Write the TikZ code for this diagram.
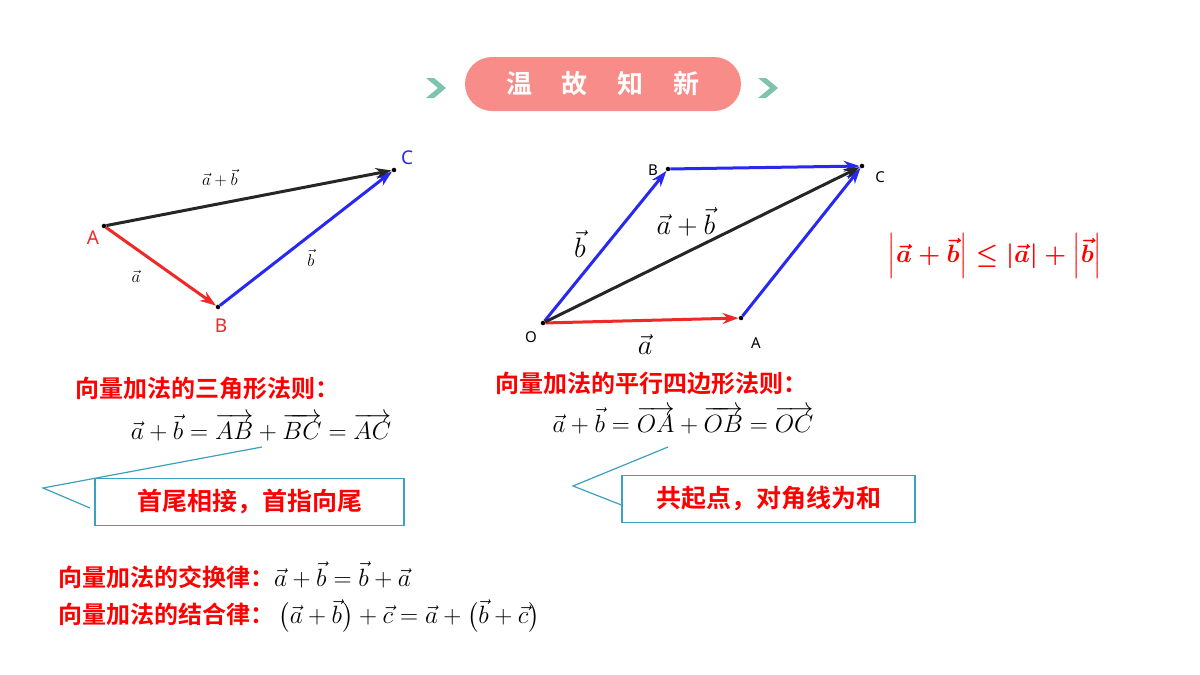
\RequirePackage{fix-cm}
\documentclass[tikz,border=0pt]{standalone}
\usepackage{amsmath}
\usepackage{fontspec}
\setmainfont{Noto Sans}
\newfontfamily\cjk{Noto Sans CJK SC}[BoldFont={Noto Sans CJK SC Bold}]
\usetikzlibrary{positioning, shapes.geometric, arrows.meta}
\definecolor{tred}{RGB}{240,40,40}
\definecolor{tblue}{RGB}{40,40,240}
\definecolor{pill}{RGB}{248,140,136}
\definecolor{teal}{RGB}{125,195,174}
\definecolor{callout}{RGB}{60,160,190}
\begin{document}
\begin{tikzpicture}[x=1pt,y=-1pt,
  vec/.style={line width=3pt,-{Stealth[length=16pt,width=11pt]}},
  pt/.style={circle,fill,inner sep=1.6pt},
  lbl/.style={font=\fontsize{17}{17}\selectfont},
  rule/.style={font=\cjk\bfseries\fontsize{24}{28}\selectfont,text=red,anchor=west,inner sep=0pt},
  eqn/.style={font=\fontsize{25}{28}\selectfont},
  tipbox/.style={draw=callout,line width=1.2pt,fill=white,minimum width=309pt,minimum height=47pt,
    font=\cjk\bfseries\fontsize{25}{28}\selectfont,text=red}]
  \useasboundingbox (0,0) rectangle (1200,675);
  % header
  \node[rounded corners=27pt,fill=pill,minimum width=276pt,minimum height=54pt,
    font=\cjk\bfseries\fontsize{26}{26}\selectfont,text=white] (title) at (603,84) {温\hspace{30pt}故\hspace{30pt}知\hspace{30pt}新};
  \fill[teal] (426,78) -- (434,78) -- (446,88) -- (434,98) -- (426,98) -- (438,88) -- cycle;
  \fill[teal] (758,78) -- (766,78) -- (778,88) -- (766,98) -- (758,98) -- (770,88) -- cycle;
  % triangle rule
  \node[pt] (A) at (104,226) {};
  \node[pt] (B) at (218,307) {};
  \node[pt] (C) at (394,170) {};
  \draw[vec,tred] (A) -- (B);
  \draw[vec,tblue] (B) -- (C);
  \draw[vec,black!85] (A) -- (C);
  \node[lbl,text=tred,font=\fontsize{19}{19}\selectfont] at (93,238) {A};
  \node[lbl,text=tred,font=\fontsize{19}{19}\selectfont] at (221,326) {B};
  \node[lbl,text=tblue,font=\fontsize{19}{19}\selectfont] at (407,158) {C};
  \node[lbl] at (220,178) {$\vec a+\vec b$};
  \node[lbl] at (136,276) {$\vec a$};
  \node[lbl] at (311,258) {$\vec b$};
  % parallelogram rule
  \node[pt] (O) at (543,323) {};
  \node[pt] (PA) at (741,318) {};
  \node[pt] (PB) at (668,169) {};
  \node[pt] (PC) at (862,166) {};
  \draw[vec,tred] (O) -- (PA);
  \draw[vec,tblue] (O) -- (PB);
  \draw[vec,tblue] (PA) -- (PC);
  \draw[vec,tblue] (PB) -- (PC);
  \draw[vec,black!85] (O) -- (PC);
  \node[lbl,font=\fontsize{15}{15}\selectfont] at (531,337) {O};
  \node[lbl,font=\fontsize{15}{15}\selectfont] at (756,343) {A};
  \node[lbl,font=\fontsize{15}{15}\selectfont] at (653,170) {B};
  \node[lbl,font=\fontsize{15}{15}\selectfont] at (880,177) {C};
  \node[font=\fontsize{28}{28}\selectfont] at (645,345) {$\vec a$};
  \node[font=\fontsize{28}{28}\selectfont] at (580,244) {$\vec b$};
  \node[font=\fontsize{28}{28}\selectfont] at (686,222) {$\vec a+\vec b$};
  \node[font=\fontsize{25}{25}\selectfont,text=red] (ineq) at (995,256)
    {$\boldsymbol{\left|\vec a+\vec b\right|\le\left|\vec a\right|+\left|\vec b\right|}$};
  % rules text
  \node[rule] (tri) at (75,388) {向量加法的三角形法则：};
  \node[eqn] (trieq) at (261,427) {$\vec a+\vec b=\overrightarrow{AB}+\overrightarrow{BC}=\overrightarrow{AC}$};
  \node[rule] (par) at (495,383) {向量加法的平行四边形法则：};
  \node[eqn] (pareq) at (683,420) {$\vec a+\vec b=\overrightarrow{OA}+\overrightarrow{OB}=\overrightarrow{OC}$};
  % callouts
  \draw[callout,line width=1.2pt] (262,447) -- (43,488) -- (90,508);
  \node[tipbox] (tip1) at (249.5,502) {首尾相接，首指向尾};
  \draw[callout,line width=1.2pt] (668,447) -- (573,486) -- (624,506);
  \node[tipbox,minimum width=293pt] (tip2) at (768.5,499) {共起点，对角线为和};
  % laws
  \node[rule] (comm) at (58,575) {向量加法的交换律：\normalfont\color{black}\fontsize{25}{28}\selectfont$\vec a+\vec b=\vec b+\vec a$};
  \node[rule] (assoc) at (58,616) {向量加法的结合律：\normalfont\color{black}\fontsize{25}{28}\selectfont\,$\bigl(\vec a+\vec b\bigr)+\vec c=\vec a+\bigl(\vec b+\vec c\bigr)$};
\end{tikzpicture}
\end{document}
